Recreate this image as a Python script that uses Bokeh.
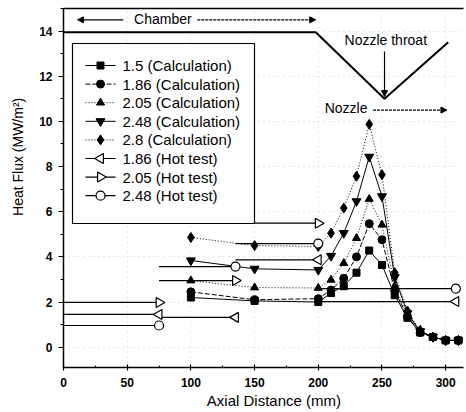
from bokeh.plotting import figure
from bokeh.embed import file_html
from bokeh.resources import INLINE
from bokeh.models import (Range1d, SingleIntervalTicker, FixedTicker, Arrow, NormalHead,
                          Label, LinearAxis)
import numpy as np

# ---- data ----
calc_x = [100, 150, 200, 210, 220, 230, 240, 250, 260, 270, 280, 290, 300, 310]
calc_150 = [2.2, 2.05, 2.0, 2.4, 2.7, 3.3, 4.28, 3.64, 2.3, 1.3, 0.65, 0.45, 0.3, 0.3]
calc_186 = [2.45, 2.1, 2.15, 2.53, 3.05, 4.0, 5.47, 4.76, 2.5, 1.35, 0.65, 0.45, 0.3, 0.3]
calc_205 = [2.95, 2.64, 2.62, 2.98, 3.72, 4.83, 6.56, 5.42, 2.7, 1.4, 0.7, 0.45, 0.3, 0.3]
calc_248 = [3.84, 3.47, 3.42, 4.04, 5.05, 6.46, 8.43, 6.68, 3.1, 1.5, 0.7, 0.45, 0.3, 0.3]
calc_280 = [4.86, 4.5, 4.46, 5.05, 6.16, 7.57, 9.87, 7.64, 3.3, 1.6, 0.75, 0.45, 0.3, 0.3]

seg_start = [0, 75, 135, 200]
seg_end = [75, 135, 200, 308]
hot_186 = [1.45, 1.32, 3.87, 2.02]
hot_205 = [1.98, 2.95, 5.49, np.nan]
hot_248 = [0.96, 3.57, 4.59, 2.59]

labels = ["1.5 (Calculation)", "1.86 (Calculation)", "2.05 (Calculation)",
          "2.48 (Calculation)", "2.8 (Calculation)", "1.86 (Hot test)",
          "2.05 (Hot test)", "2.48 (Hot test)"]

# chamber / nozzle contour sketch
contour_x = [0, 198, 252, 302]
contour_y = [13.95, 13.95, 11.0, 13.5]

FONT = "Liberation Sans"
W, H = 464, 411
BL, BR, BT, BB = 63, 1, 8, 44
X0, X1, Y0, Y1 = 0, 314, -0.9, 15.0
FW, FH = W - BL - BR, H - BT - BB
NB = "\u00a0"

def sx2d(px):  # frame pixel offset -> data x
    return X0 + px * (X1 - X0) / FW

def sy2d(py):  # pixels above frame bottom -> data y
    return Y0 + py * (Y1 - Y0) / FH

p = figure(width=W, height=H, output_backend="svg", toolbar_location=None,
           x_range=Range1d(X0, X1), y_range=Range1d(Y0, Y1),
           min_border_left=BL, min_border_right=BR, min_border_top=BT, min_border_bottom=BB)
p.background_fill_color = "white"
p.outline_line_color = None
p.grid.grid_line_color = "#aaaaaa"
p.grid.grid_line_alpha = 0.5
p.grid.grid_line_dash = "1 4"

p.xaxis.ticker = SingleIntervalTicker(interval=50, num_minor_ticks=2)
p.yaxis.ticker = SingleIntervalTicker(interval=2, num_minor_ticks=2)
for ax in (p.xaxis[0], p.yaxis[0]):
    ax.axis_line_color = "black"
    ax.axis_line_width = 1.5
    ax.major_tick_line_color = "black"
    ax.minor_tick_line_color = "black"
    ax.major_tick_line_width = 1.2
    ax.major_label_text_font = FONT
    ax.major_label_text_font_style = "bold"
    ax.major_label_text_font_size = "12px"
    ax.major_label_text_color = "black"
    ax.axis_label_text_font = FONT
    ax.axis_label_text_font_style = "normal"
    ax.axis_label_text_color = "black"
p.xaxis.axis_label_text_font_size = "15px"
p.yaxis.axis_label_text_font_size = "14px"
p.xaxis.major_tick_in = 3
p.xaxis.major_tick_out = 3
p.xaxis.minor_tick_in = 2
p.xaxis.minor_tick_out = 0
p.yaxis.major_tick_in = 0
p.yaxis.major_tick_out = 5
p.yaxis.minor_tick_in = 0
p.yaxis.minor_tick_out = 3
p.xaxis.axis_label = NB * 5 + "Axial Distance (mm)"
p.yaxis.axis_label = NB * 16 + "Heat Flux (MW/m²)"
p.xaxis.axis_label_standoff = 2
p.yaxis.axis_label_standoff = 10
p.xaxis.major_label_standoff = 7
p.yaxis.major_label_standoff = 6

top_axis = LinearAxis(ticker=FixedTicker(ticks=[]), major_tick_line_color=None,
                      minor_tick_line_color=None, major_label_standoff=0,
                      axis_line_color="black", axis_line_width=1.5)
p.add_layout(top_axis, "above")

# styles: (marker, dash, fill, angle, size)
styles = [("square", "solid", "black", 0.0, 7),
          ("circle", "5 2", "black", 0.0, 8),
          ("triangle", "1 2", "black", 0.0, 8),
          ("inverted_triangle", "solid", "black", 0.0, 9),
          ("diamond", "1 2", "black", 0.0, 10),
          ("triangle", "solid", "white", np.pi / 2, 10),
          ("triangle", "solid", "white", -np.pi / 2, 10),
          ("circle", "solid", "white", 0.0, 9)]

for y, st in zip([calc_150, calc_186, calc_205, calc_248, calc_280], styles[:5]):
    marker, dash, fill, angle, size = st
    p.line(calc_x, y, line_color="black", line_width=1, line_dash=dash)
    p.scatter(calc_x, y, marker=marker, size=size, fill_color=fill, line_color="black")

for y, st in zip([hot_186, hot_205, hot_248], styles[5:]):
    marker, dash, fill, angle, size = st
    xs, ys = [], []
    for s, e, v in zip(seg_start, seg_end, y):
        xs += [s, e, np.nan]
        ys += [v, v, np.nan]
    p.line(xs, ys, line_color="black", line_width=1.2)
    p.scatter(seg_end, y, marker=marker, size=size, fill_color=fill,
              line_color="black", line_width=1.2, angle=angle)

# ---- legend (drawn by hand so rotated triangles show) ----
LB_L, LB_R, LB_B, LB_T = 9, 191, 144, 324   # box, px from frame left / bottom
ROW0, ROWH = 302, 18.6
G0, G1, TX = 22, 52, 59
p.quad(left=[sx2d(LB_L)], right=[sx2d(LB_R)], bottom=[sy2d(LB_B)], top=[sy2d(LB_T)],
       fill_color="white", line_color="black", line_width=1.2)
for i, (lab, st) in enumerate(zip(labels, styles)):
    marker, dash, fill, angle, size = st
    yy = sy2d(ROW0 - ROWH * i)
    p.line([sx2d(G0), sx2d(G1)], [yy, yy], line_color="black",
           line_width=1.2 if fill == "white" else 1, line_dash=dash)
    p.scatter([sx2d((G0 + G1) / 2)], [yy], marker=marker, size=size, fill_color=fill,
              line_color="black", line_width=1.2 if fill == "white" else 1, angle=angle)
    p.add_layout(Label(x=sx2d(TX), y=yy, text=lab, text_font=FONT, text_font_size="15px",
                       text_align="left", text_baseline="middle", text_color="black"))

# contour sketch
p.line(contour_x, contour_y, line_color="black", line_width=2)

def arrow(x0, y0, x1, y1, dash="solid"):
    p.add_layout(Arrow(end=NormalHead(size=6, fill_color="black", line_color="black"),
                       x_start=x0, y_start=y0, x_end=x1, y_end=y1,
                       line_color="black", line_width=1.2, line_dash=dash))

arrow(47, 14.5, 11, 14.5)
arrow(105, 14.5, 198, 14.5, "3 1")
arrow(252, 13.1, 252, 11.1)
arrow(243, 10.5, 301, 10.5, "3 1")

for txt, x, y, align in [("Chamber", 78, 14.55, "center"),
                         ("Nozzle throat", 253, 13.6, "center"),
                         ("Nozzle", 205, 10.6, "left")]:
    p.add_layout(Label(x=x, y=y, text=txt, text_font=FONT, text_font_size="14px",
                       text_align=align, text_baseline="middle", text_color="black"))

open("out.html", "w").write(file_html(p, INLINE))
